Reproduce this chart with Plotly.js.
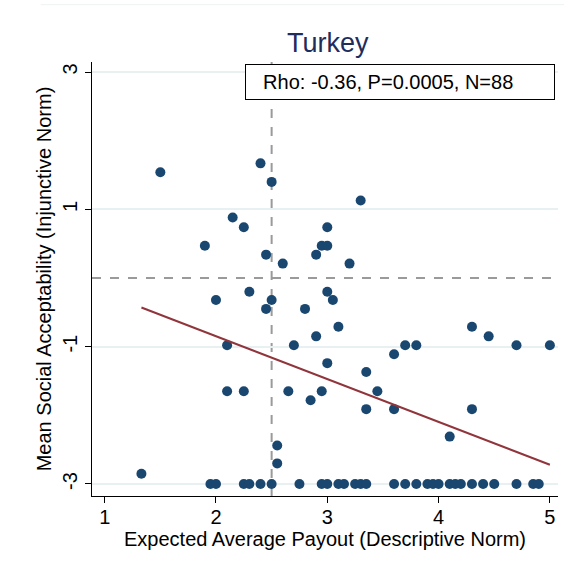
<!DOCTYPE html>
<html>
<head>
<meta charset="utf-8">
<script src="https://cdn.plot.ly/plotly-3.0.1.min.js"></script>
<style>
  html, body { margin: 0; padding: 0; background: #ffffff; }
  #chart { width: 564px; height: 570px; }
</style>
</head>
<body>
<div id="chart"></div>
<script>
// Country-level scatter: expected average payout vs. mean social acceptability
const country = "Turkey";

// Responses above the floor of the acceptability scale
const payoutUpper = [1.5, 2.4, 2.5, 2.15, 2.25, 1.9, 2.45, 2.6, 2.3, 2.0, 2.5, 2.45,
  3.3, 3.0, 2.95, 3.0, 2.9, 3.2, 3.0, 3.05, 2.8, 2.9, 2.1, 2.7, 3.0,
  2.1, 2.25, 2.65, 2.95, 2.85, 2.55, 2.55, 1.33,
  3.1, 4.3, 4.45, 3.7, 3.8, 4.7, 5.0, 3.6, 3.35, 3.45, 3.35, 3.6, 4.3, 4.1];
const acceptUpper = [1.54, 1.67, 1.40, 0.88, 0.74, 0.47, 0.34, 0.21, -0.20, -0.32, -0.32, -0.45,
  1.13, 0.74, 0.47, 0.47, 0.34, 0.21, -0.20, -0.32, -0.45, -0.85, -0.98, -0.98, -1.24,
  -1.65, -1.65, -1.65, -1.65, -1.78, -2.44, -2.70, -2.85,
  -0.71, -0.71, -0.85, -0.98, -0.98, -0.98, -0.98, -1.11, -1.37, -1.65, -1.91, -1.91, -1.91, -2.31];

// Responses at the floor of the scale
const payoutFloor = [1.95, 2.0, 2.25, 2.3, 2.4, 2.5, 2.75, 2.95, 3.0, 3.1, 3.15, 3.25, 3.3, 3.35,
  3.6, 3.7, 3.8, 3.9, 3.95, 4.0, 4.1, 4.15, 4.2, 4.3, 4.4, 4.5, 4.7, 4.85, 4.9];
const acceptFloor = payoutFloor.map(() => -3.0);

// Linear fit endpoints
const fitPayout = [1.33, 5.0];
const fitAccept = [-0.43, -2.72];

// Reference lines
const refPayout = 2.5;
const refAccept = 0.0;

const statsText = "Rho: -0.36, P=0.0005, N=88";
const xTitle = "Expected Average Payout (Descriptive Norm)";
const yTitle = "Mean Social Acceptability (Injunctive Norm)";

const xTicks = [1, 2, 3, 4, 5];
const yTicks = [3, 1, -1, -3];

const payout = payoutUpper.concat(payoutFloor);
const accept = acceptUpper.concat(acceptFloor);

const font = "Liberation Sans, Arial, sans-serif";

const traces = [
  {
    x: payout, y: accept, type: "scatter", mode: "markers",
    marker: { color: "#1a476f", size: 10, line: { width: 0 } },
    hoverinfo: "skip", showlegend: false
  },
  {
    x: fitPayout, y: fitAccept, type: "scatter", mode: "lines",
    line: { color: "#90353b", width: 2 },
    hoverinfo: "skip", showlegend: false
  }
];

const layout = {
  width: 564, height: 570,
  margin: { l: 92, r: 6, t: 62, b: 74 },
  paper_bgcolor: "#ffffff", plot_bgcolor: "#ffffff",
  font: { family: font, color: "#000000", size: 20 },
  title: {
    text: country, x: 0.581, xanchor: "center", y: 0.925, yanchor: "middle",
    font: { family: font, size: 27, color: "#1e2d5c" }
  },
  xaxis: {
    range: [0.886, 5.073], tickvals: xTicks, ticktext: xTicks.map(String),
    showgrid: false, zeroline: false,
    showline: true, linecolor: "#000000", linewidth: 1,
    ticks: "outside", ticklen: 6, tickcolor: "#000000", tickwidth: 1,
    tickfont: { family: font, size: 20 }, ticklabelstandoff: -3
  },
  yaxis: {
    range: [-3.175, 3.146], tickvals: yTicks, ticktext: yTicks.map(String),
    tickangle: -90,
    showgrid: true, gridcolor: "#e9f0f2", gridwidth: 2, zeroline: false,
    showline: true, linecolor: "#000000", linewidth: 1,
    ticks: "outside", ticklen: 6, tickcolor: "#000000", tickwidth: 1,
    tickfont: { family: font, size: 20 },
    title: { text: yTitle, standoff: 2, font: { family: font, size: 20 } }
  },
  shapes: [
    { type: "line", xref: "x", yref: "paper", x0: refPayout, x1: refPayout, y0: 0, y1: 1,
      line: { color: "#9a9a9a", width: 2, dash: "dash" }, layer: "below" },
    { type: "line", xref: "paper", yref: "y", x0: 0, x1: 1, y0: refAccept, y1: refAccept,
      line: { color: "#9a9a9a", width: 2, dash: "dash" }, layer: "below" },
    { type: "line", xref: "paper", yref: "paper", x0: -0.11, x1: 1.02, y0: 1.132, y1: 1.132,
      line: { color: "#eef2f3", width: 1 } }
  ],
  annotations: [
    { text: "&nbsp;&nbsp;" + statsText, xref: "paper", yref: "paper", x: 0.993, y: 0.995,
      xanchor: "right", yanchor: "top", showarrow: false,
      font: { family: font, size: 20, color: "#000000" },
      bordercolor: "#000000", borderwidth: 1, borderpad: 6, bgcolor: "#ffffff",
      width: 296, align: "left" },
    { text: xTitle, xref: "paper", yref: "paper", x: 0.5, y: -0.1,
      xanchor: "center", yanchor: "middle", showarrow: false,
      font: { family: font, size: 20, color: "#000000" } }
  ]
};

Plotly.newPlot("chart", traces, layout, { displayModeBar: false, staticPlot: true });
</script>
</body>
</html>
